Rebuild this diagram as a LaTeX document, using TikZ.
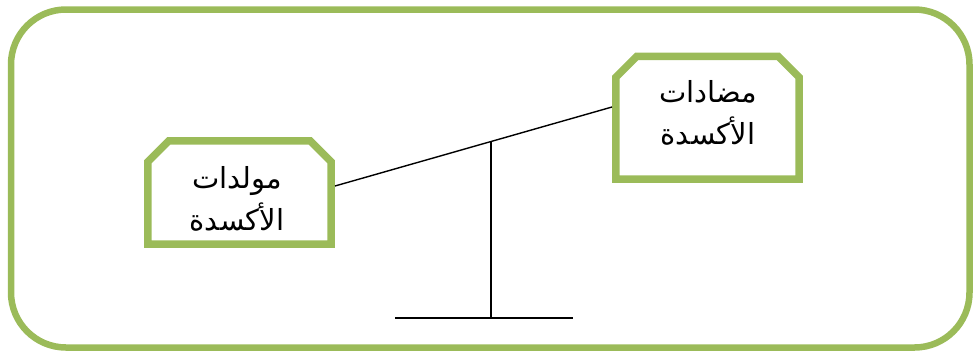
\documentclass[tikz,border=0pt]{standalone}
\usepackage{fontspec}
\usetikzlibrary{calc}
\TeXXeTstate=1
\newfontfamily\arabicfont[Script=Arabic]{DejaVu Sans}
\definecolor{leaf}{RGB}{155,187,89}
\tikzset{
  frame/.style={draw=leaf, line width=6.5pt, rounded corners=55pt},
  boxslot/.style={rectangle, draw=none, inner sep=0pt, minimum width=183pt},
  boxline/.style={draw=leaf, line width=7.5pt, line join=miter},
  boxtext/.style={align=center, inner sep=0pt,
    font=\arabicfont\fontsize{29}{42}\selectfont},
  bar/.style={draw=black, line width=1.4pt}
}
\newcommand{\chambox}[1]{%
  \draw[boxline] (#1.south west) -- ($(#1.north west)+(0,21)$) -- ($(#1.north west)+(21,0)$)
    -- ($(#1.north east)+(-21,0)$) -- ($(#1.north east)+(0,21)$) -- (#1.south east) -- cycle;}
\begin{document}
\begin{tikzpicture}[x=1pt,y=-1pt]
\useasboundingbox (0,0) rectangle (976,354);
\draw[frame] (11,9.5) rectangle (969.5,347.5);
\node[boxslot, minimum height=103pt] (lb) at (239.5,192.5) {};
\node[boxslot, minimum height=122.5pt] (rb) at (707.5,117.75) {};
\chambox{lb}
\chambox{rb}
\node[boxtext] (lt) at (237,199) {\beginR مولدات\endR\\ \beginR الأكسدة\endR};
\node[boxtext] (rt) at (708,113) {\beginR مضادات\endR\\ \beginR الأكسدة\endR};
\coordinate (bl) at (335,186);
\coordinate (br) at (612,107);
\coordinate (pt) at (491,141.5);
\coordinate (pb) at (491,318);
\coordinate (b1) at (395,318);
\coordinate (b2) at (573,318);
\draw[bar] (bl) -- (br);
\draw[bar, line width=1.8pt] (pt) -- (pb);
\draw[bar, line width=1.8pt] (b1) -- (b2);
\end{tikzpicture}
\end{document}
